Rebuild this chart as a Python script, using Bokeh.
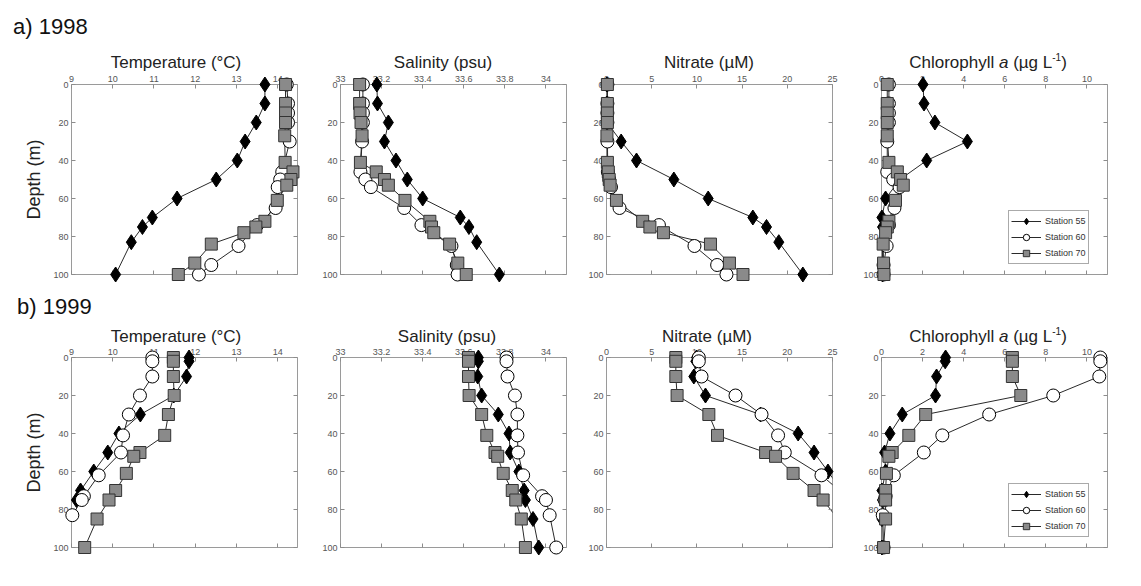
import numpy as np
from bokeh.plotting import figure
from bokeh.layouts import column, row
from bokeh.models import (Range1d, LinearAxis, FixedTicker, Legend, LegendItem,
                          ColumnDataSource, Div)
from bokeh.embed import file_html
from bokeh.resources import INLINE

nan = float("nan")

# ---------------- data ----------------
stations = ["Station 55", "Station 60", "Station 70"]
year_labels = ["a) 1998", "b) 1999"]
titles = ["Temperature (°C)", "Salinity (psu)", "Nitrate (µM)",
          "Chlorophyll <i>a</i> (µg L<sup style='font-size:10px;line-height:0'>-1</sup>)"]
depth_ticks = [0, 20, 40, 60, 80, 100]
temp_ticks = [9, 10, 11, 12, 13, 14]
sal_ticks = [33, 33.2, 33.4, 33.6, 33.8, 34]
sal_tick_labels = ["33", "33.2", "33.4", "33.6", "33.8", "34"]
nit_ticks = [0, 5, 10, 15, 20, 25]
chl_ticks = [0, 2, 4, 6, 8, 10]

# 1998 sampling depths (m)
d55_98 = [0, 10, 20, 30, 40, 50, 60, 70, 75, 83, 100]
d60_98 = [0, 10, 15, 20, 30, 46, 50, 54, 65, 74, 85, 95, 100]
d70_98 = [0, 10, 15, 20, 27, 41, 46, 50, 53, 61, 72, 75, 78, 84, 94, 100]

temp55_98 = [13.69, 13.69, 13.48, 13.21, 13.02, 12.51, 11.56, 10.96, 10.72, 10.45, 10.07]
temp60_98 = [14.22, 14.25, 14.25, 14.25, 14.29, 14.11, 14.06, 14.00, 13.95, 13.50, 13.05, 12.39, 12.09]
temp70_98 = [14.19, 14.19, 14.19, 14.19, 14.17, 14.18, 14.37, 14.32, 14.22, 13.99, 13.69, 13.47, 13.18, 12.39, 11.99, 11.59]

sal55_98 = [33.177, 33.180, 33.233, 33.214, 33.270, 33.325, 33.400, 33.583, 33.625, 33.663, 33.773]
sal60_98 = [33.109, 33.109, 33.109, 33.109, 33.105, 33.097, 33.121, 33.148, 33.310, 33.394, 33.540, 33.566, 33.570]
sal70_98 = [33.093, 33.093, 33.095, 33.100, 33.105, 33.097, 33.174, 33.214, 33.233, 33.314, 33.435, 33.443, 33.454, 33.531, 33.571, 33.612]

nit55_98 = [0.05, 0.05, 0.05, 1.62, 3.32, 7.45, 11.25, 16.19, 17.70, 19.06, 21.72]
nit60_98 = [0.10, 0.10, 0.10, 0.10, 0.10, 0.15, 0.30, 0.50, 1.44, 5.80, 9.73, 12.24, 13.27]
nit70_98 = [0.10, 0.10, 0.10, 0.10, 0.05, 0.10, 0.20, 0.30, 0.40, 1.10, 4.00, 4.80, 6.30, 11.50, 13.60, 15.10]

chl55_98 = [2.02, 2.07, 2.60, 4.18, 2.20, 0.90, 0.20, 0.02, 0.05, 0.05, 0.05]
chl60_98 = [0.36, 0.36, 0.36, 0.36, 0.28, 0.28, 0.57, 0.88, 0.63, 0.36, 0.25, 0.10, 0.10]
chl70_98 = [0.28, 0.28, 0.28, 0.28, 0.28, 0.36, 0.77, 0.93, 1.06, 0.68, 0.36, 0.28, 0.20, 0.08, 0.10, 0.12]

# 1999 sampling depths (m)
d55_99 = [0, 2, 10, 20, 30, 40, 50, 60, 70, 75, 85, 100]
d60_99 = [0, 2, 10, 20, 30, 41, 50, 62, 73, 75, 83, 100]
d70_99 = [0, 2, 10, 20, 30, 41, 50, 52, 61, 70, 75, 85, 100]

temp55_99 = [11.85, 11.85, 11.79, 11.48, 10.67, 10.15, 9.88, 9.54, 9.22, 9.12, nan, nan]
temp60_99 = [10.96, 10.96, 10.96, 10.66, 10.39, 10.25, 10.20, 9.66, 9.30, 9.25, 9.02, nan]
temp70_99 = [11.47, 11.47, 11.47, 11.49, 11.35, 11.26, 10.66, 10.51, 10.33, 10.07, 9.91, 9.62, 9.32]

sal55_99 = [33.671, 33.671, 33.668, 33.687, 33.768, 33.820, 33.826, 33.868, 33.894, 33.900, 33.937, 33.965]
sal60_99 = [33.808, 33.808, 33.813, 33.849, 33.861, 33.861, 33.864, 33.889, 33.981, 34.000, 34.018, 34.050]
sal70_99 = [33.623, 33.623, 33.623, 33.626, 33.687, 33.712, 33.752, 33.765, 33.792, 33.836, 33.853, 33.880, 33.900]

nit55_99 = [9.96, 9.88, 9.66, 10.95, 17.04, 21.20, 22.96, 24.50, 26.00, 26.60, 27.50, 28.50]
nit60_99 = [10.21, 10.21, 10.51, 14.27, 17.15, 18.98, 19.72, 23.78, 26.50, 27.00, 27.50, 28.50]
nit70_99 = [7.67, 7.67, 7.67, 7.81, 11.32, 12.28, 17.60, 18.70, 20.64, 22.96, 23.96, 25.60, 27.00]

chl55_99 = [3.12, 3.10, 2.68, 2.63, 1.01, 0.41, 0.15, 0.20, 0.02, 0.05, 0.02, 0.02]
chl60_99 = [10.65, 10.65, 10.60, 8.36, 5.24, 2.96, 2.06, 0.60, 0.20, 0.15, 0.06, 0.10]
chl70_99 = [6.37, 6.37, 6.37, 6.78, 2.15, 1.33, 0.52, 0.36, 0.24, 0.20, 0.20, 0.20, 0.10]

depths = [[d55_98, d60_98, d70_98], [d55_99, d60_99, d70_99]]
values = [
    [[temp55_98, temp60_98, temp70_98], [sal55_98, sal60_98, sal70_98],
     [nit55_98, nit60_98, nit70_98], [chl55_98, chl60_98, chl70_98]],
    [[temp55_99, temp60_99, temp70_99], [sal55_99, sal60_99, sal70_99],
     [nit55_99, nit60_99, nit70_99], [chl55_99, chl60_99, chl70_99]],
]

# ---------------- layout / style ----------------
FONT = "Liberation Sans"
x_ranges = [(9, 14.48), (33, 34.1), (0, 25), (0, 11)]
x_tick_sets = [temp_ticks, sal_ticks, nit_ticks, chl_ticks]
FRAME_W, FRAME_H = 226, 190
LB = [71, 22, 21, 23]
RB = [21, 19, 26, 26]
FIG_W = [LB[i] + FRAME_W + RB[i] for i in range(4)]
TOP = 14
BOTTOM = [16, 20]
title_centers = [[176, 443, 709, 988], [176, 447, 707, 988]]
year_div = [dict(h=48, pad=14), dict(h=32, pad=4)]
title_div_h = [22, 21]

styles = [
    dict(marker="diamond", size=15, fill_color="black", line_color="black"),
    dict(marker="circle", size=13, fill_color="white", line_color="black"),
    dict(marker="square", size=12, fill_color="#8a8a8a", line_color="#333333"),
]


def style_axis(ax, ticks, labels=None, show=True):
    ax.ticker = FixedTicker(ticks=ticks)
    ax.axis_line_color = None
    ax.major_tick_in = 4
    ax.major_tick_out = 0
    ax.minor_tick_line_color = None
    ax.major_tick_line_color = "#8c8c8c"
    ax.major_label_text_font = FONT
    ax.major_label_text_font_size = "9px"
    ax.major_label_text_color = "#555555"
    ax.major_label_standoff = 3
    if not show:
        ax.major_label_overrides = {t: "" for t in ticks}
    elif labels is not None:
        ax.major_label_overrides = {t: l for t, l in zip(ticks, labels)}


def build_panel(ri, ci):
    lo, hi = x_ranges[ci]
    p = figure(width=FIG_W[ci], height=TOP + FRAME_H + BOTTOM[ri],
               x_range=Range1d(lo, hi), y_range=Range1d(100, 0),
               x_axis_location="above", output_backend="svg", toolbar_location=None,
               min_border_left=LB[ci], min_border_right=RB[ci],
               min_border_top=TOP, min_border_bottom=BOTTOM[ri],
               background_fill_color="white", border_fill_color=None)
    p.outline_line_color = "#9a9a9a"
    p.outline_line_width = 1
    p.grid.visible = False

    style_axis(p.xaxis[0], x_tick_sets[ci], sal_tick_labels if ci == 1 else None)
    style_axis(p.yaxis[0], depth_ticks)
    if ci == 0:
        p.yaxis[0].axis_label = "Depth (m)"
        p.yaxis[0].axis_label_text_font = FONT
        p.yaxis[0].axis_label_text_font_size = "18px"
        p.yaxis[0].axis_label_text_font_style = "normal"
        p.yaxis[0].axis_label_text_color = "#222222"
        p.yaxis[0].axis_label_standoff = 6
    bax = LinearAxis()
    style_axis(bax, x_tick_sets[ci], show=False)
    p.add_layout(bax, "below")
    rax = LinearAxis()
    style_axis(rax, depth_ticks, show=False)
    p.add_layout(rax, "right")

    items = []
    for si in range(3):
        xs = np.array(values[ri][ci][si], dtype=float)
        ys = np.array(depths[ri][si], dtype=float)
        lr = p.line(xs, ys, line_color="#2a2a2a", line_width=1)
        ok = np.isfinite(xs) & (xs >= lo) & (xs <= hi)
        src = ColumnDataSource(dict(x=xs[ok], y=ys[ok]))
        sr = p.scatter("x", "y", source=src, line_width=1, level="overlay", **styles[si])
        items.append(LegendItem(label=stations[si], renderers=[lr, sr]))

    if ci == 3:
        legend = Legend(items=items, location=(127, 10), orientation="vertical",
                        glyph_width=30, glyph_height=16, label_height=16, spacing=0,
                        padding=2, margin=0, label_standoff=4,
                        label_text_font=FONT, label_text_font_size="9px",
                        label_text_color="#333333", border_line_color="#555555",
                        border_line_width=1, background_fill_color="white",
                        background_fill_alpha=1.0)
        p.add_layout(legend)
    return p


def title_div(ri, ci):
    left = sum(FIG_W[:ci])
    w = FIG_W[ci]
    shift = title_centers[ri][ci] - (left + w / 2.0)
    if shift > 0:
        pad = "padding-left:%dpx;" % round(2 * shift)
    else:
        pad = "padding-right:%dpx;" % round(-2 * shift)
    html = ("<div style=\"display:block;box-sizing:border-box;width:%dpx;"
            "font-family:'%s';font-size:17px;color:#222;text-align:center;"
            "line-height:22px;padding-top:4px;white-space:nowrap;%s\">%s</div>") % (
        w, FONT, pad, titles[ci])
    return Div(text=html, width=w, height=title_div_h[ri], margin=(0, 0, 0, 0))


blocks = []
for ri in range(2):
    yhtml = ("<div style=\"font-family:'%s';font-size:22px;color:#111;line-height:26px;"
             "padding-top:%dpx;padding-left:%dpx;white-space:nowrap\">%s</div>") % (
        FONT, year_div[ri]["pad"], 13 if ri == 0 else 17, year_labels[ri])
    blocks.append(Div(text=yhtml, width=sum(FIG_W), height=year_div[ri]["h"], margin=(0, 0, 0, 0)))
    blocks.append(row(*[title_div(ri, ci) for ci in range(4)]))
    blocks.append(row(*[build_panel(ri, ci) for ci in range(4)]))

layout = column(*blocks)

open("out.html", "w").write(file_html(layout, INLINE))
